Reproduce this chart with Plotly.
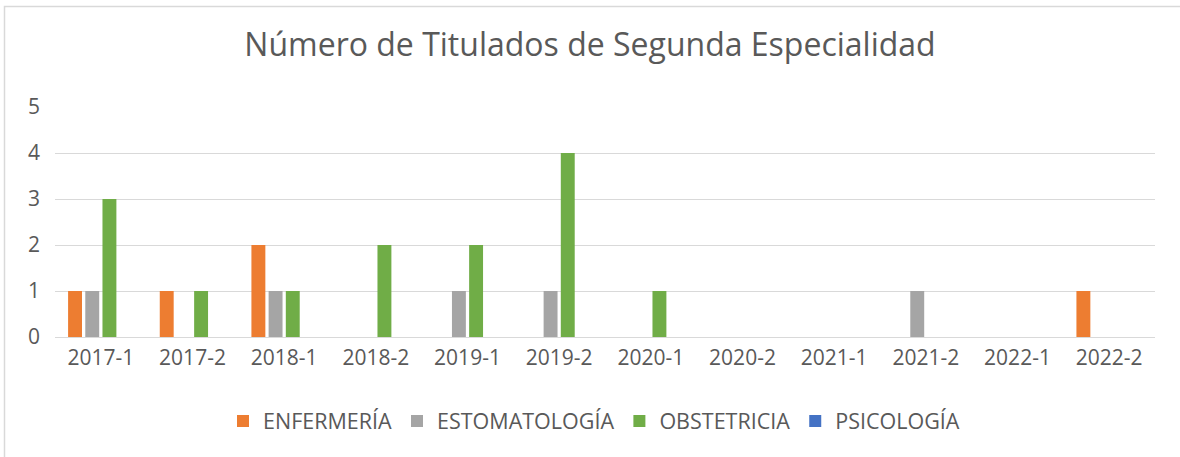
import plotly.graph_objects as go

categories = ["2017-1", "2017-2", "2018-1", "2018-2", "2019-1", "2019-2",
              "2020-1", "2020-2", "2021-1", "2021-2", "2022-1", "2022-2"]
enfermeria = [1, 1, 2, 0, 0, 0, 0, 0, 0, 0, 0, 1]
estomatologia = [1, 0, 1, 0, 1, 1, 0, 0, 0, 1, 0, 0]
obstetricia = [3, 1, 1, 2, 2, 4, 1, 0, 0, 0, 0, 0]
psicologia = [0, 0, 0, 0, 0, 0, 0, 0, 0, 0, 0, 0]
y_ticks = [0, 1, 2, 3, 4, 5]

series = [
    ("ENFERMERÍA", enfermeria, "#ED7D31"),
    ("ESTOMATOLOGÍA", estomatologia, "#A5A5A5"),
    ("OBSTETRICIA", obstetricia, "#70AD47"),
    ("PSICOLOGÍA", psicologia, "#4472C4"),
]

FONT = "Open Sans"
TXT = "#595959"

fig = go.Figure()
for name, vals, col in series:
    fig.add_trace(go.Bar(name=name, x=categories, y=vals, marker_color=col,
                         marker_line_width=0))

W, H = 1180, 457
L, R, T, B = 55, 25, 107, 120
pw, ph = W - L - R, H - T - B

def px_x(v):
    return (v - L) / pw

def px_y(v):
    return (H - B - v) / ph

fig.update_layout(
    width=W, height=H,
    margin=dict(l=L, r=R, t=T, b=B),
    paper_bgcolor="white", plot_bgcolor="white",
    barmode="group", bargap=0.25, bargroupgap=0.19,
    font=dict(family=FONT, color=TXT, size=21),
    title=dict(text="Número de Titulados de Segunda Especialidad",
               x=0.5, xanchor="center", y=1 - 45 / H, yanchor="middle",
               yref="container", font=dict(family=FONT, size=32, color=TXT)),
    legend=dict(orientation="h", x=0.49, xanchor="center",
                y=px_y(421), yanchor="middle",
                font=dict(family=FONT, size=21.5, color=TXT),
                itemsizing="constant", traceorder="normal"),
    xaxis=dict(type="category", showgrid=False, showline=False, ticks="",
               tickfont=dict(size=21, color=TXT), ticklabelstandoff=6),
    yaxis=dict(range=[0, 5], tickvals=y_ticks, showgrid=True,
               gridcolor="#D9D9D9", gridwidth=1, zeroline=True,
               zerolinecolor="#D9D9D9", zerolinewidth=1, showline=False,
               ticks="", tickfont=dict(size=21, color=TXT),
               ticklabelstandoff=14),
    shapes=[dict(type="rect", xref="paper", yref="paper",
                 x0=px_x(4.5), x1=px_x(1200), y0=px_y(470), y1=px_y(6.5),
                 line=dict(color="#D9D9D9", width=1.5), fillcolor="rgba(0,0,0,0)",
                 layer="below")],
)

fig.write_html("out.html",
               config={"displayModeBar": False},
               post_script="document.body.style.margin='0';"
                           "document.body.style.overflow='hidden';")
